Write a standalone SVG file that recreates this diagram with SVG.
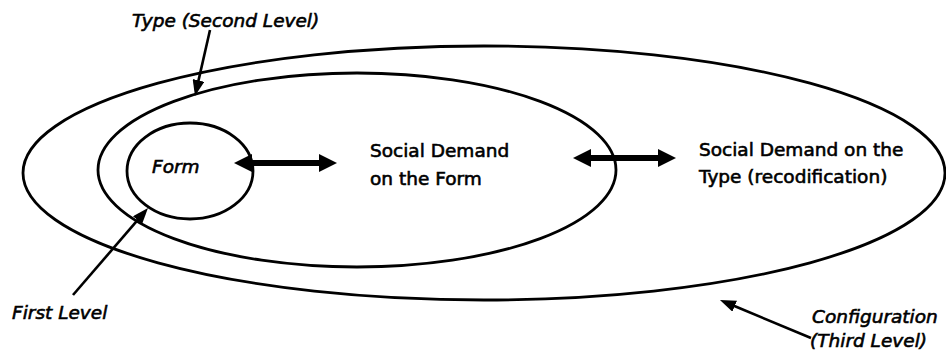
<svg xmlns="http://www.w3.org/2000/svg" width="946" height="358" viewBox="0 0 946 358">
<style>
.ring{fill:none;stroke:#000;stroke-width:2.8}
.t{font-family:"DejaVu Sans","Verdana",sans-serif;font-size:18.5px;fill:#000;stroke:#000;stroke-width:0.6}
.i{font-style:italic}
.la{stroke:#000;stroke-width:2.6;fill:none}
.da{stroke:#000;stroke-width:6;fill:none}
</style>
<defs>
<marker id="lh" markerUnits="userSpaceOnUse" markerWidth="16" markerHeight="12" refX="1" refY="6" orient="auto" viewBox="0 0 16 12">
<path d="M0,0 L16,6 L0,12 z" fill="#000"/>
</marker>
<marker id="dh" markerUnits="userSpaceOnUse" markerWidth="18" markerHeight="18" refX="1" refY="9" orient="auto-start-reverse" viewBox="0 0 18 18">
<path d="M0,0 L18,9 L0,18 z" fill="#000"/>
</marker>
</defs>
<g id="configuration">
<ellipse class="ring" cx="484" cy="173" rx="461" ry="127"/>
<text class="t i" x="812" y="323">Configuration</text>
<text class="t i" x="810" y="347">(Third Level)</text>
</g>
<g id="type">
<ellipse class="ring" cx="357" cy="170" rx="259" ry="97"/>
<text class="t i" x="132" y="27">Type (Second Level)</text>
</g>
<g id="form">
<ellipse class="ring" cx="190" cy="171" rx="63" ry="48"/>
<text class="t i" x="152" y="173">Form</text>
<text class="t i" x="12" y="319">First Level</text>
</g>
<g id="social-demand-form">
<text class="t" x="370" y="157">Social Demand</text>
<text class="t" x="370" y="185">on the Form</text>
</g>
<g id="social-demand-type">
<text class="t" x="699" y="156">Social Demand on the</text>
<text class="t" x="699" y="183">Type (recodification)</text>
</g>
<g id="connectors">
<line class="la" x1="210" y1="30" x2="198.3" y2="81.4" marker-end="url(#lh)"/>
<line class="la" x1="73" y1="295" x2="138.2" y2="219.4" marker-end="url(#lh)"/>
<line class="la" x1="811" y1="338" x2="733.8" y2="305.8" marker-end="url(#lh)"/>
<line class="da" x1="251" y1="163" x2="320" y2="163" marker-start="url(#dh)" marker-end="url(#dh)"/>
<line class="da" x1="590" y1="158" x2="659" y2="158" marker-start="url(#dh)" marker-end="url(#dh)"/>
</g>
</svg>
